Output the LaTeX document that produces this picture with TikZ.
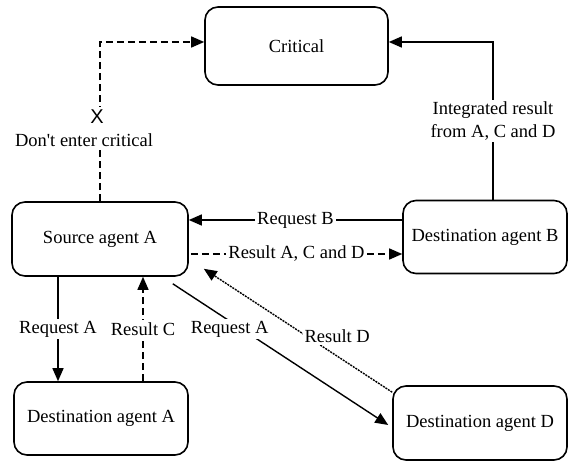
\documentclass[tikz,border=0pt]{standalone}
\usepackage{fontspec}
\setmainfont{Liberation Serif}
\newfontfamily\xfont{Liberation Sans}
\usetikzlibrary{arrows.meta,calc}
\begin{document}
\begin{tikzpicture}[x=1pt,y=-1pt,
  box/.style={draw,line width=1.6pt,rounded corners=13pt,inner sep=0pt,align=center},
  conn/.style={line width=1.4pt},
  tip/.style={-{Triangle[length=13pt,width=11pt]}},
  dsh/.style={dash pattern=on 7pt off 4pt},
  dot/.style={dash pattern=on 2pt off 1pt},
  lbl/.style={fill=white,inner sep=2pt,align=center},
  every node/.style={font=\fontsize{18.5}{23}\selectfont}]
\useasboundingbox (0,0) rectangle (573,462);
\node[box,minimum width=183pt,minimum height=78pt] (crit) at (296.5,46) {Critical};
\node[box,minimum width=176pt,minimum height=74pt] (src) at (100,239) {Source agent A};
\node[box,minimum width=174pt,minimum height=73pt] (dA) at (101,418.5) {Destination agent A};
\node[box,minimum width=164pt,minimum height=73pt] (dB) at (485,237) {Destination agent B};
\node[box,minimum width=174pt,minimum height=74pt] (dD) at (480,423) {Destination agent D};

\draw[conn,dsh,tip] (src.north) |- node[lbl,pos=0.23,xshift=-16pt] {\hspace*{26pt}{\xfont\fontsize{20}{23}\selectfont X}\\Don\textquotesingle t enter critical} ([yshift=4pt]crit.west);
\draw[conn,tip] ([xshift=8pt]dB.north) |- node[lbl,pos=0.25] {Integrated result\\from A, C and D} ([yshift=4pt]crit.east);
\draw[conn,tip] (dB.west |- 0,220) -- node[lbl] {Request B} (src.east |- 0,220);
\draw[conn,dsh,tip] ([xshift=2pt]src.east |- 0,254) -- node[lbl] {Result A, C and D} (dB.west |- 0,254);
\draw[conn,tip] (src.south -| 58,0) -- node[lbl] {Request A} (dA.north -| 58,0);
\draw[conn,dsh,tip] (dA.north -| 143,0) -- node[lbl] {Result C} (src.south -| 143,0);
\draw[conn,tip] ([xshift=-16pt,yshift=-7pt]src.south east) -- node[lbl,pos=0.32,xshift=-12pt] {Request A} ([xshift=-4pt,yshift=-2pt]dD.west);
\draw[conn,dot,tip] ([yshift=-7pt]dD.north west) -- node[lbl,pos=0.43,xshift=26pt,yshift=3pt] {Result D} ([xshift=15pt,yshift=8pt]src.south east);
\end{tikzpicture}
\end{document}
